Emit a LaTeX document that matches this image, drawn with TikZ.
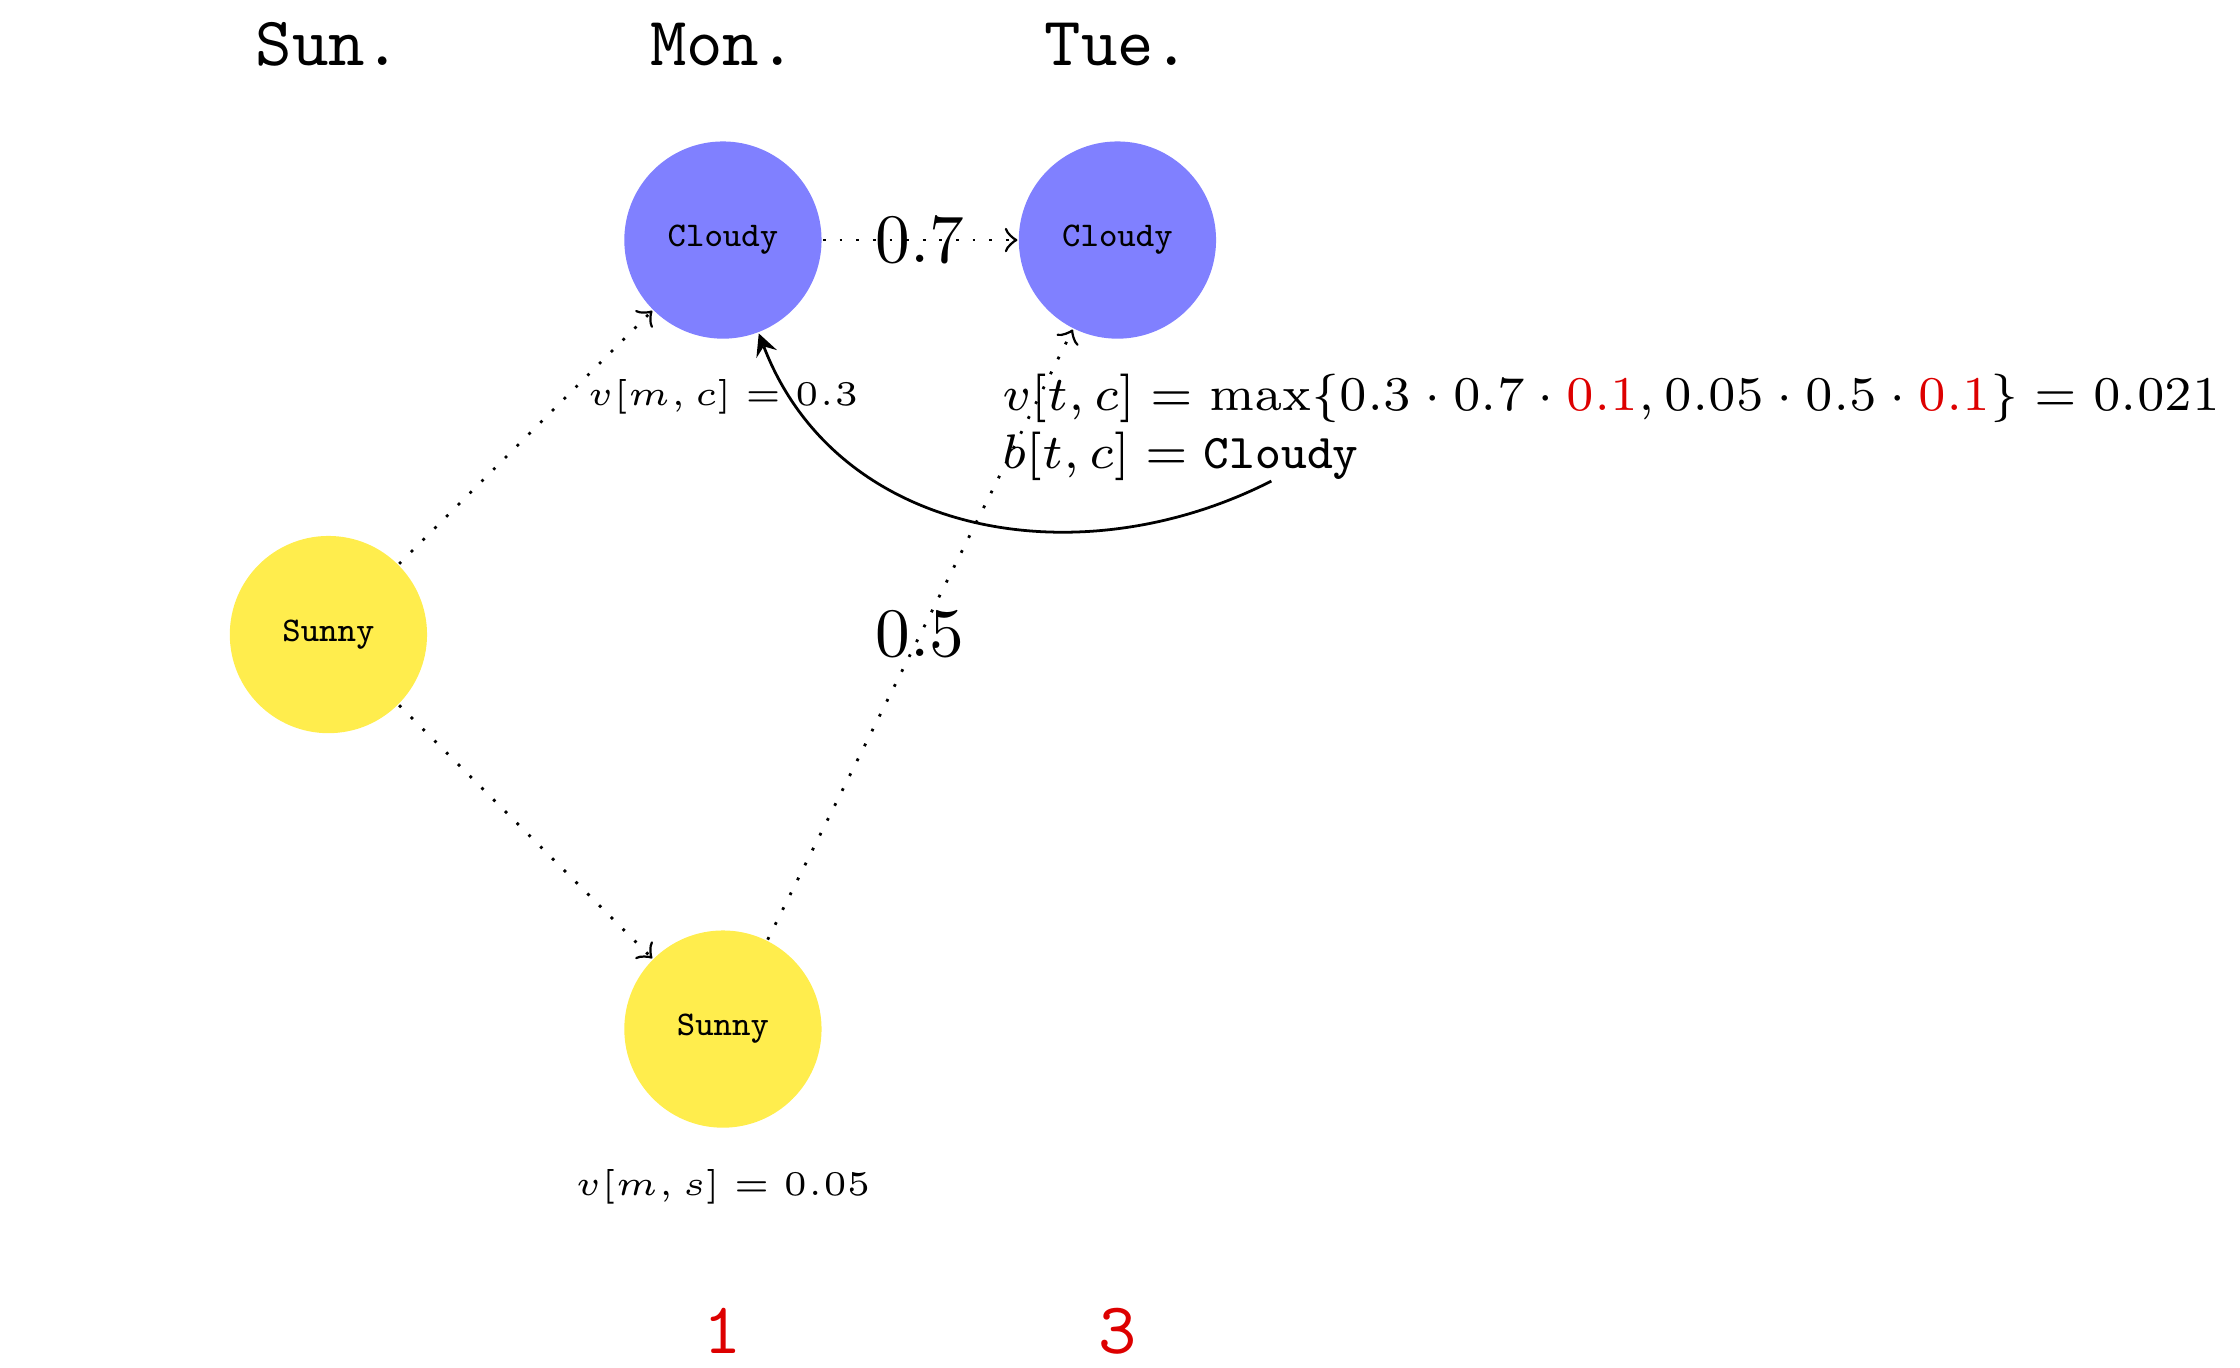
\documentclass[tikz,border=0pt]{standalone}
\usetikzlibrary{arrows}
\definecolor{sunyellow}{RGB}{255,237,77}
\definecolor{alertred}{RGB}{221,0,0}
\begin{document}
\begin{tikzpicture}[
  weather/.style={circle, minimum size=1cm, inner sep=0pt, font=\tiny\ttfamily},
  cloudy/.style={weather, fill=blue!50},
  sunny/.style={weather, fill=sunyellow},
  trans/.style={->, dotted},
  daylabel/.style={anchor=base, font=\ttfamily, inner sep=0pt},
  steplabel/.style={anchor=base, font=\fontsize{10.5}{12}\selectfont\ttfamily, text=alertred, inner sep=0pt},
  vlabel/.style={anchor=base, font=\tiny, inner sep=0pt},
  calc/.style={anchor=base west, font=\scriptsize, inner sep=0pt},
  prob/.style={font=\fontsize{10.3}{12.5}\selectfont, inner sep=0pt}
]
\useasboundingbox (-1.665,-3.714) rectangle (9.691,3.217);

% day labels
\node[daylabel] (sun) at (0,2.887) {Sun.};
\node[daylabel] (mon) at (2,2.887) {Mon.};
\node[daylabel] (tue) at (4,2.887) {Tue.};

% states
\node[sunny]  (sunS)   at (0,0)  {Sunny};
\node[cloudy] (cloudM) at (2,2)  {Cloudy};
\node[sunny]  (sunM)   at (2,-2) {Sunny};
\node[cloudy] (cloudT) at (4,2)  {Cloudy};

% transitions
\draw[trans] (sunS) -- (cloudM);
\draw[trans] (sunS) -- (sunM);
\draw[trans] (cloudM) -- node[prob] {$0.7$} (cloudT);
\draw[trans] (sunM) -- node[prob] {$0.5$} (cloudT);

% viterbi values
\node[vlabel] (vmc) at (2,1.163) {$v[m, c] = 0.3$};
\node[vlabel] (vms) at (2,-2.842) {$v[m, s] = 0.05$};

\node[calc] (vtc) at (3.41,1.138) {$v[t,c] = \max\{0.3\cdot 0.7\cdot \textcolor{alertred}{0.1}, 0.05\cdot 0.5\cdot \textcolor{alertred}{0.1}\} = 0.021$};
\node[calc] (btc) at (3.41,0.844) {$b[t,c] = \texttt{Cloudy}$};

% back pointer
\coordinate (bstart) at (4.78,0.778);
\draw[-stealth] (bstart) to[out=207,in=-69,looseness=1.04] (cloudM);

% step numbers
\node[steplabel] (s1) at (2,-3.643) {1};
\node[steplabel] (s3) at (4,-3.643) {3};
\end{tikzpicture}
\end{document}
